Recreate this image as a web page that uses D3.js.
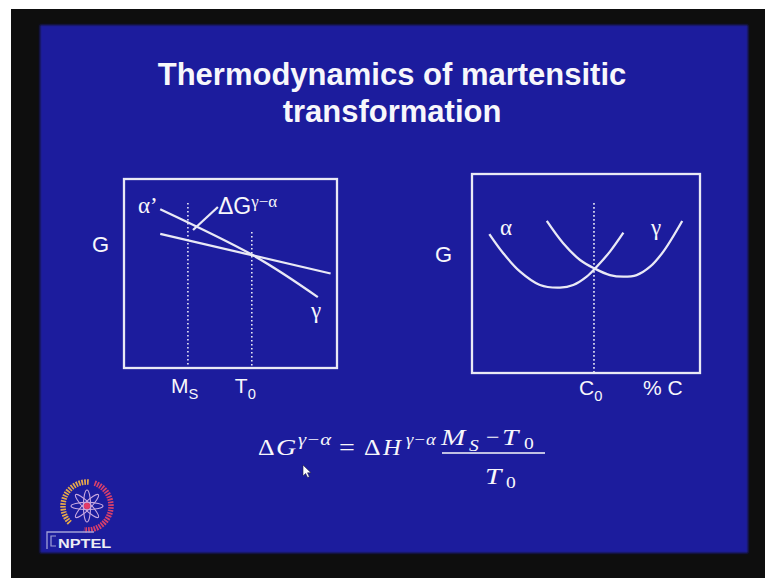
<!DOCTYPE html>
<html>
<head>
<meta charset="utf-8">
<script src="https://cdn.jsdelivr.net/npm/d3@7"></script>
<style>
  html, body { margin: 0; padding: 0; background: #ffffff; }
  svg { display: block; }
</style>
</head>
<body>
<svg id="slide" width="765" height="578"></svg>
<script>
// ---- slide text ----
const titleLines = ["Thermodynamics of martensitic", "transformation"];

// ---- left panel: free energy G against temperature ----
const tempDomain = [0, 10];
const gDomain = [0, 10];
const tempMarks = [
  { name: "M", sub: "S", t: 3.0, top: 8.73 },
  { name: "T", sub: "0", t: 6.0, top: 7.2 }
];
const gammaLine = [[1.7, 8.4], [6.0, 6.0], [9.1, 3.75]];  // steeper line (γ), meets α' at T0
const alphaPrimeLine = [[1.7, 7.1], [9.7, 5.0]];          // shallower line (α')
const leaderLine = [[3.24, 7.3], [4.41, 8.52]];           // points at the gap ΔG at M_S

// ---- right panel: free energy G against carbon content ----
const carbonDomain = [0, 10];
const c0 = { name: "C", sub: "0", c: 5.35, top: 8.54 };
const alphaCurve = [
  [0.76, 6.98], [1.37, 6.02], [2.11, 5.09], [2.98, 4.42], [3.86, 4.29],
  [4.44, 4.42], [5.03, 4.84], [5.47, 5.34], [6.05, 6.10], [6.64, 7.05]
];
const gammaCurve = [
  [3.28, 7.64], [4.00, 6.52], [4.74, 5.68], [5.36, 5.26], [6.05, 4.92],
  [6.64, 4.84], [7.22, 4.92], [7.81, 5.34], [8.39, 6.10], [9.22, 7.64]
];

// ---- styling ----
const BLUE = "#1b1b9d";
const INK = "#e9e9f5";
const TEXT = "#f7f7fb";
const SANS = "'Liberation Sans', Arial, Helvetica, sans-serif";
const SERIF = "'Liberation Serif', 'Times New Roman', Times, serif";

const svg = d3.select("#slide");
const defs = svg.append("defs");
defs.append("filter").attr("id", "soft").attr("x", "-5%").attr("y", "-5%")
  .attr("width", "110%").attr("height", "110%")
  .append("feGaussianBlur").attr("stdDeviation", 1.3);

// screen frame and slide background
svg.append("rect").attr("x", 11).attr("y", 9).attr("width", 754).attr("height", 569)
  .attr("fill", "#0e0e0e");
svg.append("rect").attr("x", 40).attr("y", 25).attr("width", 708).attr("height", 528)
  .attr("fill", BLUE).attr("filter", "url(#soft)");

// title
svg.append("text")
  .attr("x", 392).attr("y", 85)
  .attr("text-anchor", "middle")
  .attr("font-family", SANS).attr("font-weight", "bold").attr("font-size", 31)
  .attr("fill", TEXT)
  .selectAll("tspan").data(titleLines).join("tspan")
  .attr("x", 392).attr("dy", (d, i) => i === 0 ? 0 : 37)
  .text(d => d);

// helper: symbol with subscript
function subLabel(g, x, y, name, sub, size, family, italic) {
  const t = g.append("text").attr("x", x).attr("y", y)
    .attr("font-family", family).attr("font-size", size).attr("fill", TEXT)
    .attr("font-style", italic ? "italic" : "normal");
  t.append("tspan").text(name);
  t.append("tspan").attr("font-size", size * 0.7).attr("dy", size * 0.3).text(sub);
  return t;
}

// ================= left panel =================
const L = { x0: 124, x1: 337, y0: 179, y1: 368 };
const xT = d3.scaleLinear().domain(tempDomain).range([L.x0, L.x1]);
const yL = d3.scaleLinear().domain(gDomain).range([L.y1, L.y0]);
const left = svg.append("g");

left.append("rect").attr("x", L.x0).attr("y", L.y0)
  .attr("width", L.x1 - L.x0).attr("height", L.y1 - L.y0)
  .attr("fill", "none").attr("stroke", INK).attr("stroke-width", 2.3);

left.selectAll("line.mark").data(tempMarks).join("line").attr("class", "mark")
  .attr("x1", d => xT(d.t)).attr("x2", d => xT(d.t))
  .attr("y1", d => yL(d.top)).attr("y2", yL(0))
  .attr("stroke", INK).attr("stroke-width", 1.6).attr("stroke-dasharray", "1.6 2.4");

const lineL = d3.line().x(d => xT(d[0])).y(d => yL(d[1])).curve(d3.curveNatural);
[gammaLine, alphaPrimeLine, leaderLine].forEach(pts => {
  left.append("path").attr("d", lineL(pts))
    .attr("fill", "none").attr("stroke", INK).attr("stroke-width", 2.3);
});

left.append("text").attr("x", 92).attr("y", 252)
  .attr("font-family", SANS).attr("font-size", 22).attr("fill", TEXT).text("G");

left.append("text").attr("x", 138).attr("y", 213)
  .attr("font-family", SERIF).attr("font-size", 23).attr("fill", TEXT).text("α’");
left.append("text").attr("x", 311).attr("y", 318)
  .attr("font-family", SERIF).attr("font-size", 23).attr("fill", TEXT).text("γ");

const dg = left.append("text").attr("x", 218).attr("y", 214)
  .attr("font-family", SANS).attr("font-size", 23).attr("fill", TEXT);
dg.append("tspan").text("ΔG");
dg.append("tspan").attr("font-family", SERIF).attr("font-size", 17).attr("dy", -7).text("γ−α");

tempMarks.forEach(d => {
  subLabel(left, xT(d.t) - 17, 393, d.name, d.sub, 21, SANS, false);
});

// ================= right panel =================
const R = { x0: 472, x1: 700, y0: 174, y1: 373 };
const xC = d3.scaleLinear().domain(carbonDomain).range([R.x0, R.x1]);
const yR = d3.scaleLinear().domain(gDomain).range([R.y1, R.y0]);
const right = svg.append("g");

right.append("rect").attr("x", R.x0).attr("y", R.y0)
  .attr("width", R.x1 - R.x0).attr("height", R.y1 - R.y0)
  .attr("fill", "none").attr("stroke", INK).attr("stroke-width", 2.3);

right.append("line")
  .attr("x1", xC(c0.c)).attr("x2", xC(c0.c))
  .attr("y1", yR(c0.top)).attr("y2", yR(0))
  .attr("stroke", INK).attr("stroke-width", 1.6).attr("stroke-dasharray", "1.6 2.4");

const curveR = d3.line().x(d => xC(d[0])).y(d => yR(d[1])).curve(d3.curveCatmullRom);
[alphaCurve, gammaCurve].forEach(pts => {
  right.append("path").attr("d", curveR(pts))
    .attr("fill", "none").attr("stroke", INK).attr("stroke-width", 2.3);
});

right.append("text").attr("x", 435).attr("y", 262)
  .attr("font-family", SANS).attr("font-size", 22).attr("fill", TEXT).text("G");
right.append("text").attr("x", 500).attr("y", 235)
  .attr("font-family", SERIF).attr("font-size", 23).attr("fill", TEXT).text("α");
right.append("text").attr("x", 651).attr("y", 235)
  .attr("font-family", SERIF).attr("font-size", 23).attr("fill", TEXT).text("γ");

subLabel(right, xC(c0.c) - 15, 395, c0.name, c0.sub, 21, SANS, false);
right.append("text").attr("x", 643).attr("y", 395)
  .attr("font-family", SANS).attr("font-size", 21).attr("fill", TEXT).text("% C");

// ================= equation =================
// pieces of the equation object, each drawn a little wide
const eq = svg.append("g").attr("font-family", SERIF).attr("fill", TEXT);
function piece(x, y, size, str, italic, sx) {
  return eq.append("text")
    .attr("transform", `translate(${x},${y}) scale(${sx || 1.22},1)`)
    .attr("font-size", size)
    .attr("font-style", italic ? "italic" : "normal")
    .text(str);
}
piece(258, 455, 23, "Δ", false, 1.12);
piece(276, 455, 23, "G", true);
piece(298, 445, 17, "γ−α", true);
piece(339, 455, 23, "=", false);
piece(364, 455, 23, "Δ", false, 1.12);
piece(383, 455, 23, "H", true, 1.08);
piece(406, 445, 17, "γ−α", true, 1.1);

piece(441, 445, 24, "M", true);
piece(469, 451, 16, "S", true);
piece(486, 445, 24, "−", false, 1.0);
piece(502, 445, 24, "T", true);
piece(524, 449, 16, "0", false);

eq.append("line").attr("x1", 442).attr("x2", 545).attr("y1", 453).attr("y2", 453)
  .attr("stroke", TEXT).attr("stroke-width", 1.6);

piece(485, 484, 24, "T", true);
piece(506, 488, 16, "0", false);

// mouse pointer
svg.append("path")
  .attr("d", "M0,0 L0,11 L2.6,8.4 L4.6,12.6 L6.4,11.8 L4.5,7.8 L8,7.8 Z")
  .attr("transform", "translate(303,465)")
  .attr("fill", "#ffffff").attr("stroke", "#202040").attr("stroke-width", 0.6);

// ================= logo =================
const logo = svg.append("g");
const cx = 87, cy = 506, r = 24;
const arcPath = (a0, a1, ccw) => { const p = d3.path(); p.arc(cx, cy, r, a0, a1, ccw); return p.toString(); };
logo.append("path").attr("d", arcPath(-1.5, 2.35, true))
  .attr("fill", "none").attr("stroke", "#e6a84a").attr("stroke-width", 5.5)
  .attr("stroke-dasharray", "1.7 1.1");
logo.append("path").attr("d", arcPath(-1.25, 1.7, false))
  .attr("fill", "none").attr("stroke", "#d8406c").attr("stroke-width", 5.5)
  .attr("stroke-dasharray", "1.7 1.1");
[0, 45, 90, 135].forEach(a => {
  logo.append("ellipse").attr("cx", cx).attr("cy", cy).attr("rx", 16).attr("ry", 3.6)
    .attr("transform", `rotate(${a},${cx},${cy})`)
    .attr("fill", "none").attr("stroke", "#c8a8e0").attr("stroke-width", 1.1);
});
logo.append("circle").attr("cx", cx).attr("cy", cy).attr("r", 3.2).attr("fill", "#e23a66");

logo.append("path").attr("d", "M94,532 L47,532 L47,549")
  .attr("fill", "none").attr("stroke", "#a0a0d8").attr("stroke-width", 1.3);
logo.append("path").attr("d", "M56,536 L51,536 L51,546 L56,546")
  .attr("fill", "none").attr("stroke", "#a0a0d8").attr("stroke-width", 1.2);
logo.append("text")
  .attr("transform", "translate(58,548) scale(1.25,1)")
  .attr("font-family", SANS).attr("font-weight", "bold").attr("font-size", 13)
  .attr("fill", "#ececf4").text("NPTEL");
</script>
</body>
</html>
